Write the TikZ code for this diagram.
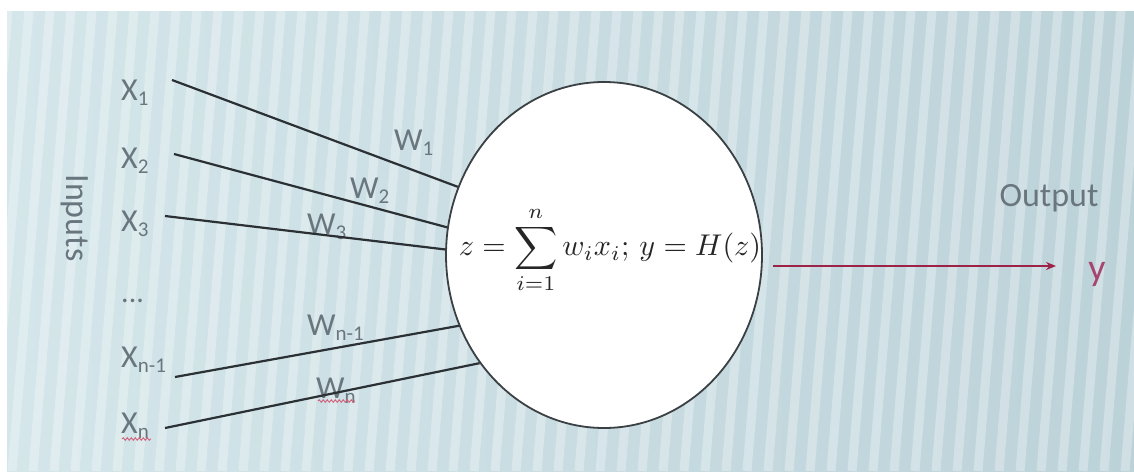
\documentclass[tikz,border=0pt]{standalone}
\usepackage{fontspec}
\setmainfont{Carlito}
\usetikzlibrary{shapes.geometric,arrows.meta,decorations.pathmorphing}
\definecolor{txtgray}{HTML}{6A767E}
\definecolor{wirecol}{HTML}{2B3034}
\definecolor{ellcol}{HTML}{3A4044}
\definecolor{outcol}{HTML}{9C2248}
\definecolor{ycol}{HTML}{A84470}
\definecolor{bgleft}{HTML}{D4E6EA}
\definecolor{bgright}{HTML}{BCD2D9}
\definecolor{squig}{HTML}{D0607A}
\newcommand\lsub[1]{\raisebox{-5pt}{\fontsize{21}{21}\selectfont #1}}
\begin{document}
\begin{tikzpicture}[x=1pt,y=-1pt,
  lbl/.style={text=txtgray, font=\fontsize{32}{38}\selectfont, inner sep=0pt},
  wire/.style={draw=wirecol, line width=2.2pt},
  outarrow/.style={draw=outcol, line width=2pt, -{Stealth[length=10pt,width=8pt]}},
  wavy/.style={draw=squig, line width=0.9pt, decorate, decoration={snake, amplitude=1.3pt, segment length=4pt}},
  stripe/.style={draw=white, opacity=0.3, line width=9pt}]
\useasboundingbox (0,0) rectangle (1134,471);
\fill[white] (0,0) rectangle (1134,471);
\shade[left color=bgleft, right color=bgright] (7,11) rectangle (1134,471);
\begin{scope}
  \clip (7,11) rectangle (1134,471);
  \foreach \i in {0,...,58}{
    \draw[stripe] (\i*21-30,471) -- (\i*21+8,11);
  }
\end{scope}

% neuron
\node[ellipse, draw=ellcol, fill=white, line width=1.8pt, minimum width=316pt, minimum height=346pt, inner sep=0pt] (neuron) at (604,255) {};
\node[inner sep=0pt, text=black!85] (formula) at (610,250) {\scalebox{3}{$\displaystyle z=\sum_{i=1}^{n} w_i x_i;\, y=H(z)$}};

% side label
\node[lbl, rotate=-90, font=\fontsize{34}{40}\selectfont] (inputs) at (75,218) {Inputs};

% inputs
\node[lbl, anchor=base west] (x1) at (121,100) {X\lsub{1}};
\node[lbl, anchor=base west] (x2) at (121,168) {X\lsub{2}};
\node[lbl, anchor=base west] (x3) at (121,231) {X\lsub{3}};
\node[lbl, anchor=base west] (xdots) at (121,302) {\fontsize{30}{30}\selectfont ...};
\node[lbl, anchor=base west] (xn1) at (121,367) {X\lsub{n-1}};
\node[lbl, anchor=base west] (xn) at (121,433) {X\lsub{n}};

% weights
\node[lbl, anchor=base west] (w1) at (394,150) {W\lsub{1}};
\node[lbl, anchor=base west] (w2) at (350,198) {W\lsub{2}};
\node[lbl, anchor=base west] (w3) at (307,234) {W\lsub{3}};
\node[lbl, anchor=base west] (wn1) at (307,335) {W\lsub{n-1}};
\node[lbl, anchor=base west] (wn) at (316,398) {W\lsub{n}};

% wire starts
\coordinate (s1) at (172,80);
\coordinate (s2) at (174,154);
\coordinate (s3) at (165,216);
\coordinate (sn1) at (175,377);
\coordinate (sn) at (165,428);

\draw[wire] (s1) -- (neuron.155.5);
\draw[wire] (s2) -- (neuron.170.2);
\draw[wire] (s3) -- (neuron.178.5);
\draw[wire] (sn1) -- (neuron.206.6);
\draw[wire] (sn) -- (neuron.221.5);

% spell-check squiggles
\draw[wavy] (122,439) -- (151,439);
\draw[wavy] (318,401) -- (355,401);

% output
\node[lbl, font=\fontsize{34}{40}\selectfont] (outlbl) at (1049,198) {Output};
\node[lbl, text=ycol, font=\fontsize{38}{44}\selectfont] (yout) at (1097,274) {y};
\coordinate (astart) at (773,266);
\coordinate (aend) at (1056,266);
\draw[outarrow] (astart) -- (aend);
\end{tikzpicture}
\end{document}
